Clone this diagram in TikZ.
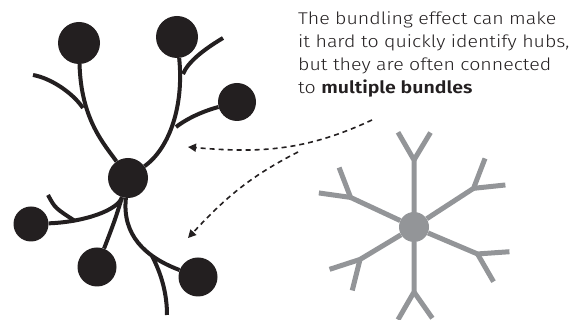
\documentclass[tikz,border=0pt]{standalone}
\usepackage{fontspec}
\setmainfont{Fira Sans}[UprightFont=* Light, BoldFont=* SemiBold, FakeStretch=1.15]
\usetikzlibrary{arrows.meta}
\definecolor{ink}{HTML}{231F20}
\definecolor{flake}{HTML}{939598}
\begin{document}
\begin{tikzpicture}[x=1pt, y=1pt, line join=round, >={Triangle[length=8pt,width=8pt]},
  dot/.style={circle, fill=ink, inner sep=0pt, minimum size=#1},
  bundle/.style={draw=ink, line width=4pt},
  pointer/.style={draw=ink, line width=1.6pt, dash pattern=on 5pt off 4pt, ->},
  spoke/.style={draw=flake, line width=5pt},
  flakehub/.style={circle, fill=flake, inner sep=0pt, minimum size=30pt}]
  \useasboundingbox (0,0) rectangle (578,320);
  \node[dot=42pt] (tl) at (79,277) {};
  \node[dot=42pt] (tm) at (177,283) {};
  \node[dot=38pt] (rt) at (237,218) {};
  \node[dot=40pt] (hub) at (128,142) {};
  \node[dot=35pt] (ll) at (31,96) {};
  \node[dot=39pt] (bm) at (97,53) {};
  \node[dot=39pt] (br) at (198,43) {};
  \coordinate (b1) at (33,245); \coordinate (j1) at (83,212);
  \coordinate (b2) at (223,282); \coordinate (j2) at (183,246);
  \coordinate (j3) at (176,193);
  \coordinate (b4) at (48,125); \coordinate (j4) at (75,99);
  \coordinate (j6) at (152,64); \coordinate (b6) at (167,5);
  \draw[bundle] (tl) .. controls (81,200) and (105,175) .. (hub);
  \draw[bundle] (b1) .. controls (50,242) and (72,228) .. (j1);
  \draw[bundle] (tm) .. controls (184,215) and (170,172) .. (hub);
  \draw[bundle] (b2) .. controls (203,270) and (188,258) .. (j2);
  \draw[bundle] (rt) .. controls (200,208) and (185,200) .. (j3);
  \draw[bundle] (hub) .. controls (118,110) and (85,98) .. (ll);
  \draw[bundle] (b4) .. controls (55,112) .. (j4);
  \draw[bundle] (hub) .. controls (115,100) .. (bm);
  \draw[bundle] (hub) .. controls (122,85) and (145,63) .. (br);
  \draw[bundle] (j6) .. controls (162,45) and (167,25) .. (b6);
  \node[anchor=north west, align=left, inner sep=0pt, text=ink,
    font=\fontsize{17}{23}\selectfont] (note) at (298,308)
    {The bundling effect can make\\ it hard to quickly identify hubs,\\
     but they are often connected\\ to \textbf{multiple bundles}};
  \coordinate (d0) at (372,200); \coordinate (fork) at (298,168);
  \coordinate (a1) at (188,173); \coordinate (a2) at (188,82);
  \draw[pointer] (d0) to[out=205, in=-5] (a1);
  \draw[pointer] (fork) to[out=207, in=47] (a2);
  \node[flakehub] (snow) at (414,93) {};
  \foreach \a/\l/\p/\q [count=\i] in {90/67/120/59, 33/71/69/6, -23/69/4/-60,
      -90/65/-120/-55, -149/63/198/256, 155/70/111/172}{
    \draw[spoke] (snow) -- ++(\a:\l) coordinate (arm\i) -- ++(\p:32);
    \draw[spoke] (arm\i) -- ++(\q:32);
  }
\end{tikzpicture}
\end{document}
